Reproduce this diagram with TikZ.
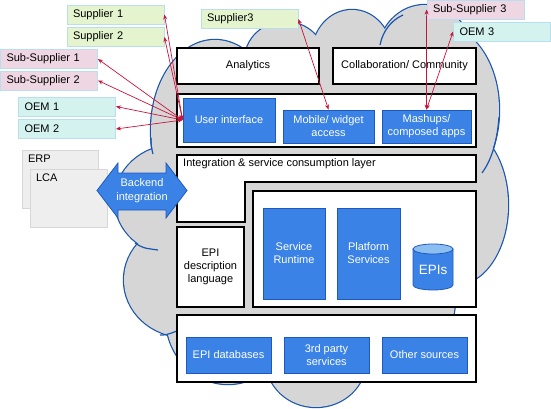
\documentclass[tikz,border=0pt]{standalone}
\usepackage{fontspec}
\setmainfont{Liberation Sans}
\usetikzlibrary{arrows.meta}

\definecolor{cloudgray}{RGB}{214,214,214}
\definecolor{cloudblue}{RGB}{25,85,175}
\definecolor{boxblue}{RGB}{58,130,230}
\definecolor{boxedge}{RGB}{30,90,190}
\definecolor{linkred}{RGB}{200,20,60}
\definecolor{tagedge}{RGB}{185,222,240}
\definecolor{supgreen}{RGB}{228,244,206}
\definecolor{subpink}{RGB}{238,214,226}
\definecolor{oemcyan}{RGB}{212,242,238}
\definecolor{legacygray}{RGB}{238,238,238}
\definecolor{legacyedge}{RGB}{215,215,215}
\definecolor{cyltop}{RGB}{140,190,240}

\begin{document}
\begin{tikzpicture}[x=1pt,y=-1pt,
    font=\fontsize{11}{13}\selectfont,
    layer/.style={draw=black, line width=1.3pt, fill=white, inner sep=0pt, align=center},
    bluebox/.style={draw=boxedge, line width=0.8pt, fill=boxblue, text=white, inner sep=0pt, align=center},
    tag/.style={draw=tagedge, line width=0.8pt, inner sep=0pt, inner xsep=6pt, text width=85pt, minimum height=19pt, align=left},
    legacy/.style={draw=legacyedge, fill=legacygray, inner sep=0pt},
    link/.style={linkred, line width=0.7pt, {Stealth[length=5pt,width=4pt]}-{Stealth[length=5pt,width=4pt]}},
    cloudline/.style={draw=cloudblue, line width=1.2pt}]
    \useasboundingbox (0,0) rectangle (551,409);

    % cloud
    \foreach \cx/\cy/\rx/\ry in {215/130/64/90, 285/60/40/38, 352/55/40/45, 425/55/47/50, 440/110/59/85, 455/205/53/80,
        175/200/60/55, 185/280/61/57, 228/318/62/66, 316/360/50/47, 400/300/55/60, 320/210/150/150}
        \draw[cloudblue, line width=2.4pt] (\cx,\cy) ellipse [x radius=\rx, y radius=\ry];
    \foreach \cx/\cy/\rx/\ry in {215/130/64/90, 285/60/40/38, 352/55/40/45, 425/55/47/50, 440/110/59/85, 455/205/53/80,
        175/200/60/55, 185/280/61/57, 228/318/62/66, 316/360/50/47, 400/300/55/60, 320/210/150/150}
        \fill[cloudgray] (\cx,\cy) ellipse [x radius=\rx, y radius=\ry];
    \draw[cloudline] (499,117) .. controls (497,145) and (490,162) .. (482,173);
    \draw[cloudline] (380,45) .. controls (383,30) and (392,20) .. (403,15);
    \draw[cloudline] (151,138) .. controls (151,146) .. (153,154);
    \draw[cloudline] (135,243) .. controls (143,248) .. (158,250);
    \draw[cloudline] (160,335) .. controls (166,335) .. (177,331);

    % back-end systems
    \node[legacy, minimum width=76pt, minimum height=58pt] (erp) at (60,179) {};
    \node[anchor=north west, inner sep=0pt] (erptext) at ([xshift=6pt,yshift=-5pt]erp.north west) {ERP};
    \node[legacy, minimum width=77pt, minimum height=58pt] (lca) at (68.5,198) {};
    \node[anchor=north west, inner sep=0pt] (lcatext) at ([xshift=6pt,yshift=-5pt]lca.north west) {LCA};

    % layers
    \node[layer, minimum width=142pt, minimum height=36pt] (analytics) at (248,66) {Analytics};
    \node[layer, minimum width=143pt, minimum height=36pt] (collab) at (404.5,66) {Collaboration/ Community};

    \node[layer, minimum width=299pt, minimum height=53pt] (front) at (326.5,120.5) {};
    \node[bluebox, minimum width=92pt, minimum height=44pt] (ui) at (229,120) {User interface};
    \node[bluebox, minimum width=91pt, minimum height=33pt] (mobile) at (328.5,126.5) {Mobile/ widget\\access};
    \node[bluebox, minimum width=89pt, minimum height=33pt] (mashups) at (426.5,126.5) {Mashups/\\composed apps};

    \draw[line width=1.3pt, fill=white] (177,155) -- (476,155) -- (476,182) -- (245,182) -- (245,222) -- (177,222) -- cycle;
    \node[anchor=west, inner sep=0pt] (intlabel) at (183,164) {Integration \& service consumption layer};

    \node[layer, minimum width=67pt, minimum height=80pt] (epidesc) at (210.5,267) {EPI\\description\\language};

    \node[layer, minimum width=223pt, minimum height=116pt] (core) at (364.5,249) {};
    \node[bluebox, minimum width=62pt, minimum height=91pt] (runtime) at (294,253.5) {Service\\Runtime};
    \node[bluebox, minimum width=63pt, minimum height=91pt] (platform) at (368.5,253.5) {Platform\\Services};
    \filldraw[fill=boxblue, draw=boxedge, line width=0.8pt] (413,249) -- (413,285)
        arc[start angle=180, end angle=360, x radius=20pt, y radius=5pt] -- (453,249) -- cycle;
    \filldraw[fill=cyltop, draw=boxedge, line width=0.8pt] (433,249) ellipse [x radius=20pt, y radius=5pt];
    \node[text=white, font=\fontsize{13.5}{15}\selectfont] (epis) at (433,270) {EPIs};

    \node[layer, minimum width=299pt, minimum height=67pt] (sources) at (326.5,348.5) {};
    \node[bluebox, minimum width=85pt, minimum height=36pt] (epidb) at (228.5,355) {EPI databases};
    \node[bluebox, minimum width=85pt, minimum height=36pt] (thirdparty) at (326.5,355) {3rd party\\services};
    \node[bluebox, minimum width=85pt, minimum height=36pt] (other) at (424.5,355) {Other sources};

    % backend integration arrow
    \filldraw[fill=boxblue, draw=boxedge, line width=0.8pt] (97,190.5) -- (118,163) -- (118,173) -- (166,173)
        -- (166,163) -- (187,190.5) -- (166,218) -- (166,210) -- (118,210) -- (118,218) -- cycle;
    \node[text=white, align=center, font=\fontsize{11}{14}\selectfont] (backend) at (142,190.5) {Backend\\integration};

    % partners
    \node[tag, fill=supgreen] (sup1) at (115.5,14.5) {Supplier 1};
    \node[tag, fill=supgreen] (sup2) at (115.5,37) {Supplier 2};
    \node[tag, fill=subpink] (sub1) at (49,59) {Sub-Supplier 1};
    \node[tag, fill=subpink] (sub2) at (49,80.5) {Sub-Supplier 2};
    \node[tag, fill=oemcyan] (oem1) at (67,106.5) {OEM 1};
    \node[tag, fill=oemcyan] (oem2) at (67,129) {OEM 2};
    \node[tag, fill=supgreen] (sup3) at (249.5,19) {Supplier3};
    \node[tag, fill=subpink] (sub3) at (475.5,9.5) {Sub-Supplier 3};
    \node[tag, fill=oemcyan] (oem3) at (502,31.5) {OEM 3};

    \foreach \p in {sup1,sup2,sub1,sub2,oem1,oem2}
        \draw[link] (ui.west) -- (\p.east);
    \draw[link] (mobile.north) -- (sup3.east);
    \draw[link] (mashups.north) -- (sub3.west);
    \draw[link] (mashups.north) -- (oem3.west);
\end{tikzpicture}
\end{document}
